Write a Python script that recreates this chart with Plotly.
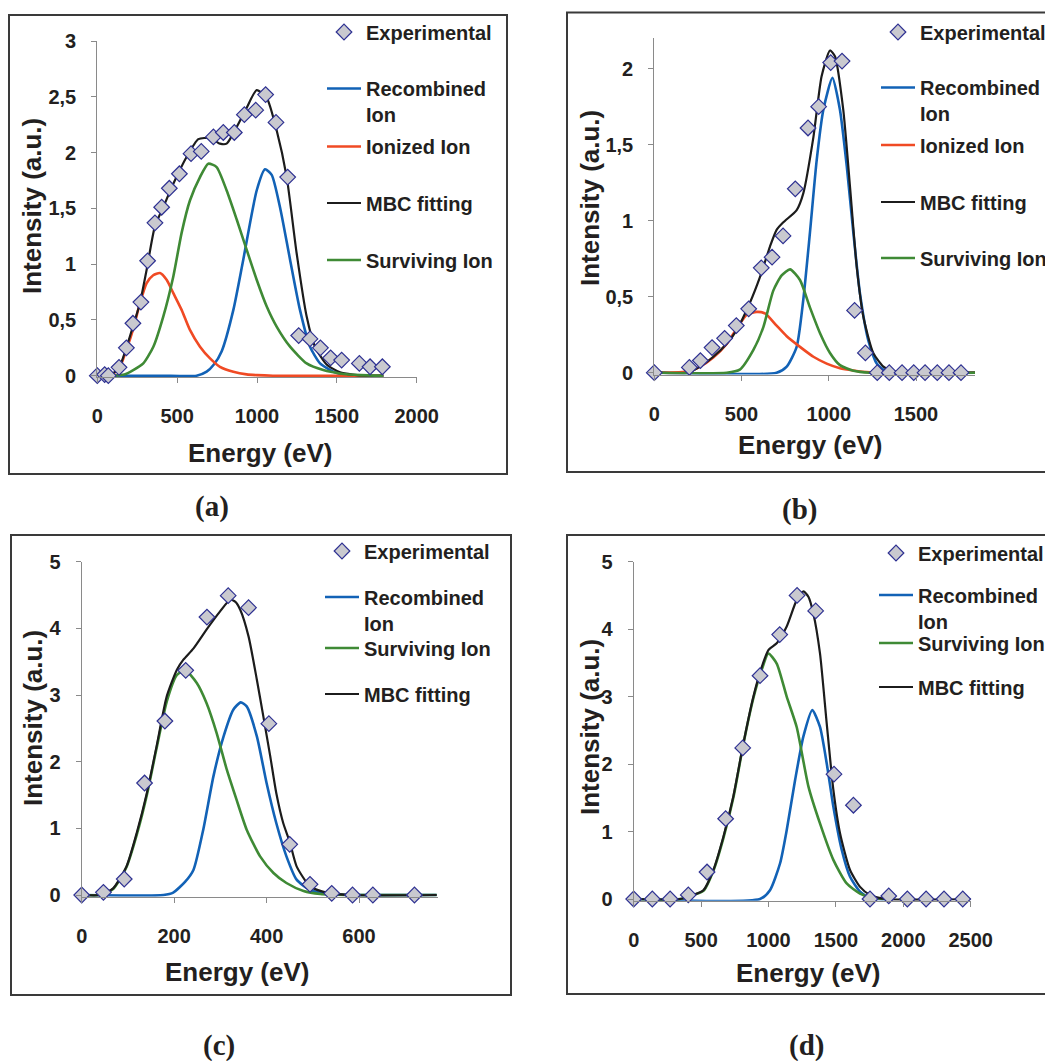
import plotly.graph_objects as go

W, H = 1053, 1061
OFF = 8  # page body margin that the browser adds around the figure

# ---------------- DATA ----------------
# Panel (a)
a_exp_x = [0, 46, 69, 136, 182, 223, 273, 315, 361, 403, 451, 514, 587, 651, 727, 789, 858, 921, 992, 1054,
           1119, 1192, 1261, 1332, 1397, 1461, 1530, 1641, 1708, 1785]
a_exp_y = [0, 0.01, 0, 0.075, 0.25, 0.47, 0.66, 1.03, 1.37, 1.51, 1.68, 1.81, 1.99, 2.01, 2.14, 2.18, 2.18, 2.34,
           2.38, 2.52, 2.27, 1.78, 0.36, 0.33, 0.25, 0.16, 0.14, 0.11, 0.08, 0.08]
a_rec_x = [100, 400, 622, 685, 730, 779, 852, 914, 998, 1050, 1092, 1144, 1207, 1269, 1332, 1395, 1478, 1582, 1791]
a_rec_y = [0, 0, 0, 0.036, 0.10, 0.22, 0.59, 1.04, 1.66, 1.85, 1.80, 1.51, 1.04, 0.59, 0.26, 0.11, 0.036, 0.0, 0.0]
a_ion_x = [80, 136, 184, 225, 267, 309, 350, 392, 434, 476, 528, 580, 643, 706, 768, 852, 935, 1000, 1100, 1300,
           1500, 1791]
a_ion_y = [0.0, 0.06, 0.24, 0.42, 0.65, 0.83, 0.90, 0.92, 0.86, 0.74, 0.59, 0.41, 0.26, 0.155, 0.08, 0.036, 0.012,
           0.005, 0.0, 0.0, 0.0, 0.0]
a_mbc_x = [80, 136, 184, 225, 267, 309, 361, 413, 476, 559, 633, 706, 768, 810, 873, 935, 998, 1061, 1123, 1186,
           1248, 1311, 1363, 1436, 1520, 1600, 1687, 1791]
a_mbc_y = [0.0, 0.07, 0.26, 0.45, 0.65, 0.95, 1.34, 1.51, 1.72, 1.96, 2.12, 2.13, 2.08, 2.08, 2.23, 2.40, 2.56,
           2.49, 2.20, 1.78, 1.10, 0.53, 0.26, 0.10, 0.03, 0.01, 0.0, 0.0]
a_surv_x = [100, 170, 225, 288, 351, 413, 476, 528, 580, 643, 695, 747, 810, 873, 935, 998, 1061, 1123, 1207,
            1311, 1415, 1520, 1650, 1791]
a_surv_y = [0.0, 0.01, 0.05, 0.11, 0.26, 0.53, 0.89, 1.28, 1.57, 1.78, 1.90, 1.87, 1.66, 1.40, 1.13, 0.86, 0.62,
            0.44, 0.26, 0.11, 0.05, 0.02, 0.005, 0.0]
a_xticks = [0, 500, 1000, 1500, 2000]
a_xticklabels = ["0", "500", "1000", "1500", "2000"]
a_yticks = [0, 0.5, 1, 1.5, 2, 2.5, 3]
a_yticklabels = ["0", "0,5", "1", "1,5", "2", "2,5", "3"]

# Panel (b)
b_exp_x = [0, 201, 264, 331, 403, 470, 541, 613, 675, 738, 808, 881, 942, 1011, 1076, 1148, 1210, 1278, 1347,
           1420, 1487, 1552, 1622, 1689, 1758]
b_exp_y = [0, 0.035, 0.08, 0.165, 0.226, 0.31, 0.42, 0.69, 0.76, 0.90, 1.21, 1.61, 1.75, 2.04, 2.05, 0.41, 0.13,
           0, 0, 0, 0, 0, 0, 0, 0]
b_rec_x = [20, 701, 759, 816, 854, 892, 931, 969, 1021, 1064, 1103, 1141, 1179, 1227, 1275, 1332, 1838]
b_rec_y = [0, 0, 0.04, 0.17, 0.48, 0.92, 1.40, 1.73, 1.94, 1.73, 1.36, 0.92, 0.52, 0.21, 0.06, 0.007, 0]
b_ion_x = [20, 200, 262, 338, 415, 472, 529, 587, 634, 701, 759, 835, 912, 988, 1064, 1141, 1236, 1400, 1838]
b_ion_y = [0, 0.01, 0.04, 0.10, 0.19, 0.29, 0.38, 0.40, 0.39, 0.31, 0.24, 0.17, 0.105, 0.06, 0.03, 0.015, 0.003,
           0, 0]
b_mbc_x = [20, 190, 262, 338, 415, 472, 548, 606, 663, 701, 740, 816, 854, 912, 959, 1007, 1036, 1083, 1122,
           1160, 1198, 1255, 1313, 1370, 1500, 1838]
b_mbc_y = [0, 0.0, 0.04, 0.105, 0.19, 0.28, 0.46, 0.63, 0.83, 0.94, 0.99, 1.07, 1.18, 1.55, 1.95, 2.12, 2.08,
           1.73, 1.22, 0.70, 0.37, 0.13, 0.04, 0.007, 0, 0]
b_surv_x = [20, 415, 490, 568, 625, 682, 730, 778, 835, 892, 950, 1007, 1064, 1141, 1236, 1838]
b_surv_y = [0, 0, 0.02, 0.15, 0.30, 0.54, 0.64, 0.68, 0.61, 0.43, 0.26, 0.13, 0.05, 0.013, 0, 0]
b_xticks = [0, 500, 1000, 1500]
b_xticklabels = ["0", "500", "1000", "1500"]
b_yticks = [0, 0.5, 1, 1.5, 2]
b_yticklabels = ["0", "0,5", "1", "1,5", "2"]

# Panel (c)
c_exp_x = [0, 47, 92, 136, 180, 225, 271, 317, 361, 405, 450, 494, 541, 586, 630, 720]
c_exp_y = [0, 0.04, 0.24, 1.68, 2.61, 3.37, 4.17, 4.49, 4.31, 2.57, 0.76, 0.16, 0.025, 0, 0, 0]
c_rec_x = [0, 177, 198, 224, 242, 263, 285, 307, 328, 344, 357, 379, 400, 421, 443, 465, 494, 530, 581, 768]
c_rec_y = [0, 0, 0.035, 0.2, 0.38, 0.98, 1.78, 2.38, 2.78, 2.89, 2.83, 2.38, 1.68, 1.08, 0.58, 0.23, 0.075,
           0.015, 0, 0]
c_surv_x = [0, 40, 68, 97, 119, 141, 162, 184, 206, 224, 249, 270, 292, 314, 335, 357, 386, 415, 443, 480, 516,
            581, 768]
c_surv_y = [0, 0, 0.09, 0.42, 0.9, 1.5, 2.2, 2.9, 3.3, 3.37, 3.18, 2.88, 2.43, 1.88, 1.43, 0.98, 0.58, 0.33, 0.18,
            0.06, 0.015, 0, 0]
c_mbc_x = [0, 40, 68, 97, 119, 141, 162, 184, 206, 220, 242, 270, 299, 321, 332, 343, 361, 379, 393, 408, 421,
           436, 450, 465, 494, 530, 581, 768]
c_mbc_y = [0, 0, 0.1, 0.43, 0.93, 1.53, 2.23, 2.98, 3.38, 3.53, 3.70, 3.98, 4.25, 4.43, 4.40, 4.28, 3.88, 3.23,
           2.68, 2.08, 1.53, 1.08, 0.80, 0.43, 0.13, 0.035, 0, 0]
c_xticks = [0, 200, 400, 600]
c_xticklabels = ["0", "200", "400", "600"]
c_yticks = [0, 1, 2, 3, 4, 5]
c_yticklabels = ["0", "1", "2", "3", "4", "5"]

# Panel (d)
d_exp_x = [0, 138, 270, 405, 544, 682, 809, 937, 1083, 1212, 1350, 1486, 1630, 1753, 1892, 2030, 2169, 2302, 2441]
d_exp_y = [0, 0, 0, 0.06, 0.40, 1.19, 2.24, 3.31, 3.92, 4.50, 4.27, 1.85, 1.39, 0, 0.045, 0, 0, 0, 0]
d_rec_x = [0, 937, 1011, 1086, 1135, 1197, 1259, 1325, 1382, 1432, 1481, 1543, 1605, 1679, 1753, 1900]
d_rec_y = [0, 0, 0.13, 0.53, 1.02, 1.76, 2.41, 2.80, 2.55, 2.01, 1.37, 0.73, 0.33, 0.11, 0.01, 0]
d_surv_x = [0, 344, 443, 517, 591, 665, 739, 814, 888, 950, 999, 1061, 1135, 1209, 1296, 1382, 1481, 1580, 1679,
            1778, 1900]
d_surv_y = [0, 0, 0.06, 0.12, 0.42, 0.9, 1.5, 2.3, 2.98, 3.4, 3.64, 3.49, 3.0, 2.55, 1.67, 1.12, 0.58, 0.23,
            0.08, 0.01, 0]
d_mbc_x = [0, 344, 443, 517, 591, 665, 739, 814, 888, 950, 999, 1061, 1135, 1209, 1259, 1296, 1333, 1382, 1432,
           1481, 1531, 1605, 1679, 1753, 1877, 2500]
d_mbc_y = [0, 0, 0.06, 0.13, 0.43, 0.92, 1.52, 2.31, 3.0, 3.44, 3.69, 3.79, 4.04, 4.43, 4.56, 4.48, 4.23, 3.64,
           2.60, 1.62, 0.97, 0.43, 0.18, 0.06, 0, 0]
d_xticks = [0, 500, 1000, 1500, 2000, 2500]
d_xticklabels = ["0", "500", "1000", "1500", "2000", "2500"]
d_yticks = [0, 1, 2, 3, 4, 5]
d_yticklabels = ["0", "1", "2", "3", "4", "5"]

panel_labels = ["(a)", "(b)", "(c)", "(d)"]
x_title = "Energy (eV)"
y_title = "Intensity (a.u.)"

# ---------------- STYLE ----------------
SANS = "Liberation Sans, Arial, sans-serif"
SERIF = "Liberation Serif, Times New Roman, serif"
TXT = "#231f20"
C_REC = "#1262b6"
C_ION = "#f04a24"
C_MBC = "#1c1c1c"
C_SURV = "#3f8a35"
AX = "#8a8a8a"


def fx(px):
    return (px - OFF) / W


def fy(py):
    return 1 - (py - OFF) / H


def dom_x(p0, p1, v0, v1, r0, r1):
    s = (p1 - p0) / (v1 - v0)
    return [fx(p0 + (r0 - v0) * s), fx(p0 + (r1 - v0) * s)]


def dom_y(p0, p1, v0, v1, r0, r1):
    s = (p0 - p1) / (v1 - v0)
    bottom = p0 - (r0 - v0) * s
    top = p0 - (r1 - v0) * s
    return [fy(bottom), fy(top)]


panels = [
    dict(exp=(a_exp_x, a_exp_y),
         curves=[("Recombined<br>Ion", a_rec_x, a_rec_y, C_REC, 2.6),
                 ("Ionized Ion", a_ion_x, a_ion_y, C_ION, 2.6),
                 ("MBC fitting", a_mbc_x, a_mbc_y, C_MBC, 2.2),
                 ("Surviving Ion", a_surv_x, a_surv_y, C_SURV, 2.6)],
         xr=[0, 2000], yr=[-0.015, 3],
         xd=(97.3, 416.7, 0, 2000), yd=(375.7, 41, 0, 3),
         xt=(a_xticks, a_xticklabels), yt=(a_yticks, a_yticklabels),
         frame=(9, 15, 507, 474),
         leg_left=322, leg_y=[32, 101.5, 146.5, 203, 260],
         xtitle=(260, 453), ytitle=(32, 206), lab=(212, 506)),
    dict(exp=(b_exp_x, b_exp_y),
         curves=[("Recombined<br>Ion", b_rec_x, b_rec_y, C_REC, 2.6),
                 ("Ionized Ion", b_ion_x, b_ion_y, C_ION, 2.6),
                 ("MBC fitting", b_mbc_x, b_mbc_y, C_MBC, 2.2),
                 ("Surviving Ion", b_surv_x, b_surv_y, C_SURV, 2.6)],
         xr=[0, 1840], yr=[-0.012, 2.2],
         xd=(654.3, 916, 0, 1500), yd=(372.7, 68.7, 0, 2),
         xt=(b_xticks, b_xticklabels), yt=(b_yticks, b_yticklabels),
         frame=(567, 12.5, 1070, 472),
         leg_left=876, leg_y=[32, 100.5, 145, 202, 258],
         xtitle=(810, 445), ytitle=(590, 198), lab=(799, 509)),
    dict(exp=(c_exp_x, c_exp_y),
         curves=[("Recombined<br>Ion", c_rec_x, c_rec_y, C_REC, 2.6),
                 ("Surviving Ion", c_surv_x, c_surv_y, C_SURV, 2.6),
                 ("MBC fitting", c_mbc_x, c_mbc_y, C_MBC, 2.2)],
         xr=[0, 770], yr=[-0.025, 5],
         xd=(81.7, 359, 0, 600), yd=(895, 561.7, 0, 5),
         xt=(c_xticks, c_xticklabels), yt=(c_yticks, c_yticklabels),
         frame=(11, 535, 511, 995),
         leg_left=320, leg_y=[551, 610, 648, 694],
         xtitle=(237.5, 972), ytitle=(33, 718), lab=(219, 1045)),
    dict(exp=(d_exp_x, d_exp_y),
         curves=[("Recombined<br>Ion", d_rec_x, d_rec_y, C_REC, 2.6),
                 ("Surviving Ion", d_surv_x, d_surv_y, C_SURV, 2.6),
                 ("MBC fitting", d_mbc_x, d_mbc_y, C_MBC, 2.2)],
         xr=[0, 2500], yr=[-0.025, 5],
         xd=(633.7, 970.7, 0, 2500), yd=(899, 561.7, 0, 5),
         xt=(d_xticks, d_xticklabels), yt=(d_yticks, d_yticklabels),
         frame=(567, 535, 1070, 994),
         leg_left=874, leg_y=[553, 608, 643, 687],
         xtitle=(808, 973), ytitle=(590, 727), lab=(806, 1045)),
]

fig = go.Figure()
layout = {}
shapes = []
annotations = []
leg_n = 0

for i, p in enumerate(panels):
    k = "" if i == 0 else str(i + 1)
    xa, ya = "x" + k, "y" + k
    legends = []
    for (name, cx, cy, col, lw) in p["curves"]:
        leg_n += 1
        lk = "legend" if leg_n == 1 else "legend%d" % leg_n
        legends.append((lk, name))
        fig.add_trace(go.Scatter(x=cx, y=cy, mode="lines", name=name,
                                 line=dict(color=col, width=lw, shape="spline", smoothing=0.6),
                                 xaxis=xa, yaxis=ya, legend=lk))
    leg_n += 1
    lk = "legend" if leg_n == 1 else "legend%d" % leg_n
    fig.add_trace(go.Scatter(x=p["exp"][0], y=p["exp"][1], mode="markers", name="Experimental",
                             marker=dict(symbol="diamond", size=12, color="#c9c9cf",
                                         line=dict(color="#2e3192", width=1.2)),
                             cliponaxis=False, xaxis=xa, yaxis=ya, legend=lk))
    legends.insert(0, (lk, "Experimental"))

    for (lk, name), yc in zip(legends, p["leg_y"]):
        layout[lk] = dict(x=fx(p["leg_left"]), y=fy(yc), xanchor="left", yanchor="middle",
                          bgcolor="rgba(0,0,0,0)", borderwidth=0, itemwidth=34, valign="top",
                          font=dict(family=SANS, size=20, color=TXT, weight="bold"))

    tickfont = dict(family=SANS, size=20, color=TXT, weight="bold")
    layout["xaxis" + k] = dict(domain=dom_x(*p["xd"], *p["xr"]), range=p["xr"], anchor=ya,
                               showline=True, linecolor=AX, linewidth=1.2, ticks="outside",
                               ticklen=5, tickcolor=AX, tickwidth=1.2, showgrid=False, zeroline=False,
                               tickvals=p["xt"][0], ticktext=p["xt"][1], tickfont=tickfont,
                               ticklabelstandoff=16, automargin=False)
    layout["yaxis" + k] = dict(domain=dom_y(*p["yd"], *p["yr"]), range=p["yr"], anchor=xa,
                               showline=True, linecolor=AX, linewidth=1.2, ticks="outside",
                               ticklen=5, tickcolor=AX, tickwidth=1.2, showgrid=False, zeroline=False,
                               tickvals=p["yt"][0], ticktext=p["yt"][1], tickfont=tickfont,
                               ticklabelstandoff=11, automargin=False)

    x0p, y0p, x1p, y1p = p["frame"]
    shapes.append(dict(type="rect", xref="paper", yref="paper", x0=fx(x0p), x1=fx(x1p),
                       y0=fy(y1p), y1=fy(y0p), line=dict(color="#3a3a3a", width=2),
                       fillcolor="rgba(0,0,0,0)", layer="below"))

    annotations.append(dict(text=x_title, xref="paper", yref="paper", x=fx(p["xtitle"][0]),
                            y=fy(p["xtitle"][1]), xanchor="center", yanchor="middle", showarrow=False,
                            font=dict(family=SANS, size=26, color=TXT, weight="bold")))
    annotations.append(dict(text=y_title, xref="paper", yref="paper", x=fx(p["ytitle"][0]),
                            y=fy(p["ytitle"][1]), xanchor="center", yanchor="middle", showarrow=False,
                            textangle=-90, font=dict(family=SANS, size=26, color=TXT, weight="bold")))
    annotations.append(dict(text=panel_labels[i], xref="paper", yref="paper", x=fx(p["lab"][0]),
                            y=fy(p["lab"][1]), xanchor="center", yanchor="middle", showarrow=False,
                            font=dict(family=SERIF, size=29, color=TXT, weight="bold")))

fig.update_layout(**layout)
fig.update_layout(width=W, height=H, autosize=False,
                  margin=dict(l=0, r=0, t=0, b=0, pad=0, autoexpand=False),
                  paper_bgcolor="white", plot_bgcolor="white",
                  shapes=shapes, annotations=annotations, showlegend=True)

fig.write_html("out.html")
